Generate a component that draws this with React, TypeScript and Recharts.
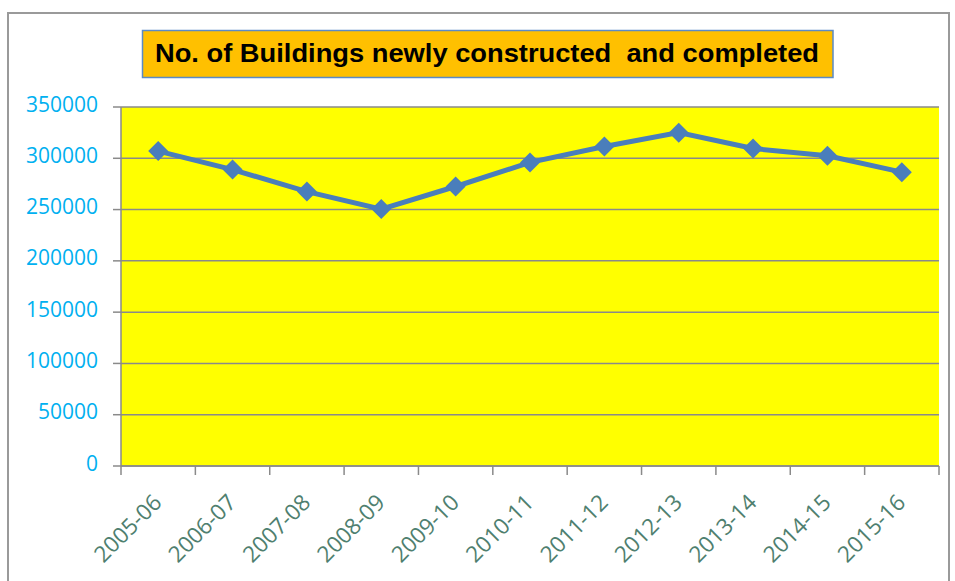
import React from 'react';
import { LineChart, Line, XAxis, YAxis, CartesianGrid } from 'recharts';

const categories = ['2005-06', '2006-07', '2007-08', '2008-09', '2009-10', '2010-11', '2011-12', '2012-13', '2013-14', '2014-15', '2015-16'];
const buildings = [307000, 289000, 267500, 250500, 272500, 296000, 311500, 325000, 309500, 302500, 286500];
const yTicks = [0, 50000, 100000, 150000, 200000, 250000, 300000, 350000];
const titleText = 'No. of Buildings newly constructed  and completed';

const data = categories.map((c, i) => ({ year: c, value: buildings[i] }));

const GRID = '#8A8A8A';
const LINE = '#4A7EBB';

const Diamond = (props: any) => {
  const { cx, cy, index } = props;
  if (cx == null || cy == null) return null;
  const r = 10;
  return <path key={`d${index}`} d={`M${cx},${cy - r}L${cx + r},${cy}L${cx},${cy + r}L${cx - r},${cy}Z`} fill={LINE} />;
};

const XTick = (props: any) => {
  const { x, y, payload, index, visibleTicksCount, width } = props;
  const half = payload && payload.offset ? payload.offset : (width && visibleTicksCount ? width / visibleTicksCount / 2 : 37.2);
  const left = x - half;
  const right = x + half;
  const ax = x + 5;
  const ay = y + 38;
  return (
    <g>
      <line x1={left} y1={y} x2={left} y2={y + 9} stroke={GRID} strokeWidth={1.5} />
      {index === visibleTicksCount - 1 && <line x1={right} y1={y} x2={right} y2={y + 9} stroke={GRID} strokeWidth={1.5} />}
      <text x={ax} y={ay} transform={`rotate(-45, ${ax}, ${ay})`} textAnchor="end" fill="#4F7F6F" fontSize={22.5} fontFamily="Open Sans">
        {payload.value}
      </text>
    </g>
  );
};

const YTick = (props: any) => {
  const { x, y, payload } = props;
  return (
    <text x={x} y={y} dy={4.6} textAnchor="end" fill="#00B0F0" fontSize={21} fontFamily="Open Sans">
      {payload.value}
    </text>
  );
};

export default function App() {
  return (
    <div style={{ position: 'absolute', left: 0, top: 0, width: 955, height: 581, overflow: 'hidden', background: '#fff' }}>
      <div style={{ position: 'absolute', left: 7, top: 12, width: 943, height: 620, boxSizing: 'border-box', borderLeft: '2px solid #9A9A9A', borderTop: '2px solid #9A9A9A', borderRight: '2px solid #9A9A9A' }} />
      <svg width={955} height={581} style={{ position: 'absolute', left: 0, top: 0 }}>
        <rect x={142.5} y={30.5} width={690.5} height={47} fill="#FFC000" stroke="#5B8BC6" strokeWidth={1.5} />
        <text x={155} y={61.5} textLength={664} lengthAdjust="spacingAndGlyphs" fontFamily="Liberation Sans" fontWeight="bold" fontSize={26} fill="#000" style={{ whiteSpace: 'pre' }}>
          {titleText}
        </text>
      </svg>
      <div style={{ position: 'absolute', left: 0, top: 0 }}>
        <LineChart width={955} height={581} data={data} margin={{ top: 107, right: 16, bottom: 0, left: 0 }}>
          <CartesianGrid fill="#FFFF00" vertical={false} stroke={GRID} strokeWidth={1.5} />
          <XAxis
            dataKey="year"
            scale="band"
            height={115}
            interval={0}
            tickLine={false}
            tickSize={0}
            tickMargin={0}
            axisLine={{ stroke: GRID, strokeWidth: 1.5 }}
            tick={<XTick />}
          />
          <YAxis
            width={121}
            domain={[0, 350000]}
            ticks={yTicks}
            interval={0}
            tickSize={8}
            tickMargin={15}
            tickLine={{ stroke: GRID, strokeWidth: 1.5 }}
            axisLine={{ stroke: GRID, strokeWidth: 1.5 }}
            tick={<YTick />}
          />
          <Line
            type="linear"
            dataKey="value"
            stroke={LINE}
            strokeWidth={5}
            dot={<Diamond />}
            activeDot={false}
            isAnimationActive={false}
          />
        </LineChart>
      </div>
    </div>
  );
}
